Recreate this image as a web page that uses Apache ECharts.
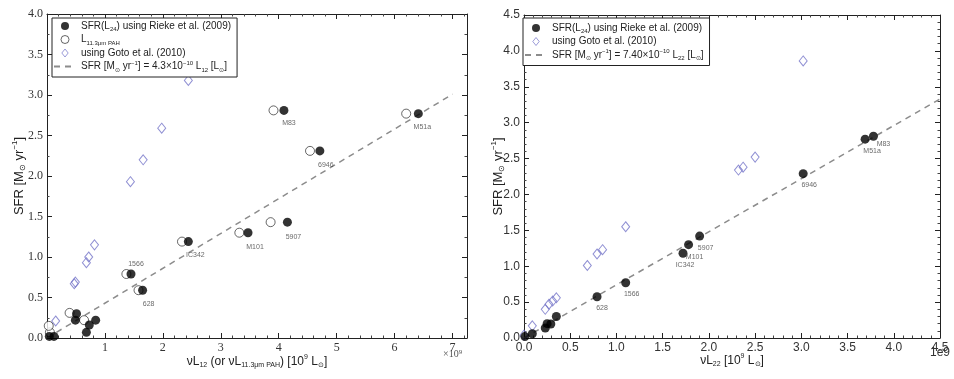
<!DOCTYPE html>
<html><head><meta charset="utf-8">
<script src="https://cdn.jsdelivr.net/npm/echarts@6/dist/echarts.min.js"></script>
<style>html,body{margin:0;padding:0;background:#fff}#c{width:954px;height:379px}</style>
</head><body><div id="c"></div>
<script>
// ---------- data ----------
// Left panel: SFR vs nuL12 (x in 1e9 Lsun)
const leftNames   = ['M83','6946','M51a','5907','M101','IC342','1566','628','','','','','','',''];
const leftRiekeX  = [4.09, 4.71, 6.41, 4.15, 3.47, 2.44, 1.45, 1.65, 0.51, 0.49, 0.84, 0.73, 0.68, 0.12, 0.04];
const leftRiekeY  = [2.81, 2.31, 2.77, 1.43, 1.30, 1.19, 0.79, 0.59, 0.30, 0.22, 0.22, 0.16, 0.07, 0.02, 0.02];
const leftPahX    = [3.91, 4.54, 6.20, 3.86, 3.32, 2.33, 1.37, 1.58, 0.39, 0.64, 0.05, 0.03];
const leftPahY    = [2.81, 2.31, 2.77, 1.43, 1.30, 1.19, 0.79, 0.59, 0.31, 0.22, 0.07, 0.15];
const leftGotoX   = [2.44, 1.98, 1.66, 1.44, 0.82, 0.72, 0.68, 0.49, 0.47, 0.15];
const leftGotoY   = [3.18, 2.59, 2.20, 1.93, 1.15, 1.00, 0.93, 0.69, 0.67, 0.21];
const leftFitX    = [0, 7.0];
const leftFitY    = [0, 3.01];
const leftXTicks  = [1, 2, 3, 4, 5, 6, 7];

// Right panel: SFR vs nuL22 (x in 1e9 Lsun)
const rightNames  = ['M83','6946','M51a','5907','M101','IC342','1566','628','','','','','',''];
const rightRiekeX = [3.78, 3.02, 3.69, 1.90, 1.78, 1.72, 1.10, 0.79, 0.35, 0.29, 0.25, 0.23, 0.09, 0.01];
const rightRiekeY = [2.81, 2.29, 2.77, 1.42, 1.30, 1.18, 0.77, 0.575, 0.30, 0.195, 0.20, 0.14, 0.06, 0.02];
const rightGotoX  = [3.02, 2.50, 2.37, 2.32, 1.10, 0.85, 0.79, 0.685, 0.35, 0.31, 0.27, 0.23, 0.09, 0.0];
const rightGotoY  = [3.86, 2.52, 2.38, 2.34, 1.55, 1.23, 1.17, 1.01, 0.56, 0.515, 0.47, 0.40, 0.17, 0.04];
const rightFitX   = [0, 4.5];
const rightFitY   = [0, 3.33];

// ---------- styling helpers ----------
const leftLabelOffset = {M83:[5,13],'6946':[6,14],M51a:[4,13],'5907':[6,15],M101:[7,14],IC342:[7,13],'1566':[5,-10],'628':[6,14]};
const rightLabelOffset = {M83:[10,8],'6946':[6,11],M51a:[7,12],'5907':[6,12],M101:[6,12],IC342:[2,12],'1566':[6,11],'628':[5,11]};

const SANS = "'Liberation Sans', Arial, sans-serif";
const NARROW = "'Liberation Sans Narrow', 'Liberation Sans', sans-serif";
const SERIF = "'Liberation Serif', 'DejaVu Serif', serif";

function zip(xs, ys) { return xs.map((x, i) => [x, ys[i]]); }
function labeled(xs, ys, names, offs) {
  return xs.map((x, i) => {
    const n = names[i];
    const item = { value: [x, ys[i]], name: n };
    if (n) item.label = { show: true, offset: offs[n] || [6, 12] };
    return item;
  });
}

function richSet(fs) {
  return {
    n: { fontSize: fs, fontFamily: SANS, color: '#222', lineHeight: fs + 3 },
    s: { fontSize: Math.round(fs * 0.62), fontFamily: SANS, color: '#222', verticalAlign: 'bottom' },
    p: { fontSize: Math.round(fs * 0.62), fontFamily: SANS, color: '#222', verticalAlign: 'top' }
  };
}

const legendText = {
  L_rieke: '{n|SFR(L}{s|24}{n|) using Rieke et al. (2009)}',
  L_pah:   '{n|L}{s|11.3μm PAH}',
  L_goto:  '{n|using Goto et al. (2010)}',
  L_fit:   '{n|SFR [M}{s|⊙}{n| yr}{p|−1}{n|] = 4.3×10}{p|−10}{n| L}{s|12}{n| [L}{s|⊙}{n|]}',
  R_rieke: '{n|SFR(L}{s|24}{n|) using Rieke et al. (2009)}',
  R_goto:  '{n|using Goto et al. (2010)}',
  R_fit:   '{n|SFR [M}{s|⊙}{n| yr}{p|−1}{n|] = 7.40×10}{p|−10}{n| L}{s|22}{n| [L}{s|⊙}{n|]}'
};

const GOTO_COLOR = '#7474c8';
const AXIS_COLOR = '#222';
const DIAMOND_ICON = 'path://M4,0L8,5L4,10L0,5Z';

function mainX(gi, min, max, interval, minorSplit, labelFont, fmt, name, gap) {
  return {
    type: 'value', gridIndex: gi, min, max, interval, position: 'bottom',
    axisLine: { show: true, onZero: false, lineStyle: { color: AXIS_COLOR, width: 1 } },
    axisTick: { show: true, inside: true, length: 5, lineStyle: { color: AXIS_COLOR } },
    minorTick: { show: true, splitNumber: minorSplit, length: 2.5, lineStyle: { color: '#444' } },
    splitLine: { show: false },
    axisLabel: { show: true, margin: 4, fontSize: 12, fontFamily: labelFont, color: '#333', formatter: fmt },
    name: name, nameLocation: 'middle', nameGap: gap, nameMoveOverlap: false,
    nameTextStyle: { rich: richSet(12) }
  };
}
function mirrorX(gi, min, max, interval, minorSplit) {
  return {
    type: 'value', gridIndex: gi, min, max, interval, position: 'top',
    axisLine: { show: true, onZero: false, lineStyle: { color: AXIS_COLOR, width: 1 } },
    axisTick: { show: true, inside: true, length: 5, lineStyle: { color: AXIS_COLOR } },
    minorTick: { show: true, splitNumber: minorSplit, length: 2.5, lineStyle: { color: '#444' } },
    splitLine: { show: false }, axisLabel: { show: false }
  };
}
function mainY(gi, min, max, interval, minorSplit, labelFont, name, gap) {
  return {
    type: 'value', gridIndex: gi, min, max, interval, position: 'left',
    axisLine: { show: true, onZero: false, lineStyle: { color: AXIS_COLOR, width: 1 } },
    axisTick: { show: true, inside: true, length: 5, lineStyle: { color: AXIS_COLOR } },
    minorTick: { show: true, splitNumber: minorSplit, length: 2.5, lineStyle: { color: '#444' } },
    splitLine: { show: false },
    axisLabel: { show: true, margin: 4, fontSize: 12, fontFamily: labelFont, color: '#333', formatter: v => v.toFixed(1) },
    name: name, nameLocation: 'middle', nameGap: gap, nameMoveOverlap: false,
    nameTextStyle: { rich: richSet(13) }
  };
}
function mirrorY(gi, min, max, interval, minorSplit) {
  return {
    type: 'value', gridIndex: gi, min, max, interval, position: 'right',
    axisLine: { show: true, onZero: false, lineStyle: { color: AXIS_COLOR, width: 1 } },
    axisTick: { show: true, inside: true, length: 5, lineStyle: { color: AXIS_COLOR } },
    minorTick: { show: true, splitNumber: minorSplit, length: 2.5, lineStyle: { color: '#444' } },
    splitLine: { show: false }, axisLabel: { show: false }
  };
}

const sfrName = '{n|SFR [M}{s|⊙}{n| yr}{p|−1}{n|]}';
const leftXName = '{n|νL}{s|12}{n| (or νL}{s|11.3μm PAH}{n|) [10}{p|9}{n| L}{s|⊙}{n|]}';
const rightXName = '{n|νL}{s|22}{n| [10}{p|9}{n| L}{s|⊙}{n|]}';

const ptLabel = { show: false, position: 'inside', fontSize: 7, fontFamily: SANS, color: '#444', formatter: p => p.name };

function legendCfg(items, left, pad, gap) {
  return {
    data: items, left: left, top: 18, orient: 'vertical', itemGap: gap, itemWidth: 22, itemHeight: 8,
    symbolKeepAspect: true,
    backgroundColor: '#fff', borderColor: '#222', borderWidth: 1, borderRadius: 0,
    padding: pad, selectedMode: false,
    formatter: n => legendText[n],
    textStyle: { fontSize: 10, fontFamily: SANS, color: '#222', rich: richSet(10) }
  };
}

const option = {
  animation: false,
  backgroundColor: '#fff',
  grid: [
    { left: 47, top: 14, width: 420, height: 324, show: false },
    { left: 524, top: 15, width: 416, height: 323, show: false }
  ],
  xAxis: [
    mainX(0, 0, 7.25, 1, 5, SERIF, v => (leftXTicks.indexOf(v) >= 0 ? String(v) : ''), leftXName, 16),
    mirrorX(0, 0, 7.25, 1, 5),
    mainX(1, 0, 4.5, 0.5, 5, NARROW, v => v.toFixed(1), rightXName, 15),
    mirrorX(1, 0, 4.5, 0.5, 5)
  ],
  yAxis: [
    mainY(0, 0, 4, 0.5, 2, SERIF, sfrName, 20),
    mirrorY(0, 0, 4, 0.5, 2),
    mainY(1, 0, 4.5, 0.5, 5, NARROW, sfrName, 18),
    mirrorY(1, 0, 4.5, 0.5, 5)
  ],
  legend: [
    legendCfg([
      { name: 'L_rieke', icon: 'circle' },
      { name: 'L_pah', icon: 'circle', itemStyle: { borderWidth: 0.8, borderColor: '#111', color: '#fff' } },
      { name: 'L_goto', icon: DIAMOND_ICON, itemStyle: { borderWidth: 0.9, borderColor: GOTO_COLOR, color: 'rgba(255,255,255,0)' } },
      { name: 'L_fit', itemStyle: { opacity: 0 } }
    ], 52, [3, 6, 4, 1], 2),
    legendCfg([
      { name: 'R_rieke', icon: 'circle' },
      { name: 'R_goto', icon: DIAMOND_ICON, itemStyle: { borderWidth: 0.9, borderColor: GOTO_COLOR, color: 'rgba(255,255,255,0)' } },
      { name: 'R_fit', itemStyle: { opacity: 0 } }
    ], 523, [5, 6, 4, 1], 2)
  ],
  graphic: [
    { type: 'text', left: 443, top: 349, style: { text: '×10⁹', font: "10px " + SERIF, fill: '#555' } },
    { type: 'text', left: 930, top: 347, style: { text: '1e9', font: "12px " + NARROW, fill: '#333' } }
  ],
  series: [
    { name: 'L_fit', type: 'line', xAxisIndex: 0, yAxisIndex: 0, data: zip(leftFitX, leftFitY), symbol: 'none',
      lineStyle: { color: '#8c8c8c', width: 1.5, type: [6, 5] }, itemStyle: { color: '#8c8c8c' }, z: 1 },
    { name: 'L_goto', type: 'scatter', xAxisIndex: 0, yAxisIndex: 0, data: zip(leftGotoX, leftGotoY),
      symbol: 'diamond', symbolSize: [8, 10], itemStyle: { color: 'rgba(255,255,255,0)', borderColor: GOTO_COLOR, borderWidth: 1 }, z: 2 },
    { name: 'L_pah', type: 'scatter', xAxisIndex: 0, yAxisIndex: 0, data: zip(leftPahX, leftPahY),
      symbol: 'circle', symbolSize: 9, itemStyle: { color: '#fff', borderColor: '#111', borderWidth: 0.8 }, z: 3 },
    { name: 'L_rieke', type: 'scatter', xAxisIndex: 0, yAxisIndex: 0, data: labeled(leftRiekeX, leftRiekeY, leftNames, leftLabelOffset),
      symbol: 'circle', symbolSize: 9, itemStyle: { color: '#000' }, label: ptLabel, z: 4 },

    { name: 'R_fit', type: 'line', xAxisIndex: 2, yAxisIndex: 2, data: zip(rightFitX, rightFitY), symbol: 'none',
      lineStyle: { color: '#8c8c8c', width: 1.5, type: [6, 5] }, itemStyle: { color: '#8c8c8c' }, z: 1 },
    { name: 'R_goto', type: 'scatter', xAxisIndex: 2, yAxisIndex: 2, data: zip(rightGotoX, rightGotoY),
      symbol: 'diamond', symbolSize: [8, 10], itemStyle: { color: 'rgba(255,255,255,0)', borderColor: GOTO_COLOR, borderWidth: 1 }, z: 2 },
    { name: 'R_rieke', type: 'scatter', xAxisIndex: 2, yAxisIndex: 2, data: labeled(rightRiekeX, rightRiekeY, rightNames, rightLabelOffset),
      symbol: 'circle', symbolSize: 9, itemStyle: { color: '#000' }, label: ptLabel, z: 4 }
  ]
};

const chart = echarts.init(document.getElementById('c'), null, { renderer: 'canvas' });
chart.setOption(option);
</script>
</body></html>
